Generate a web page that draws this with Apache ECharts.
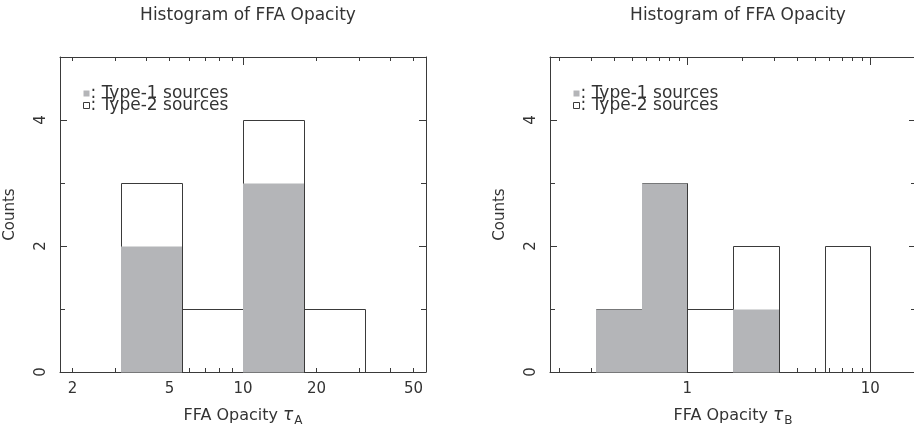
<!DOCTYPE html>
<html>
<head>
<meta charset="utf-8">
<script src="https://cdn.jsdelivr.net/npm/echarts@6/dist/echarts.min.js"></script>
<style>html,body{margin:0;padding:0;background:#fff}#c{width:914px;height:438px}</style>
</head>
<body>
<div id="c"></div>
<script>
// ---- data (x in log10 of FFA opacity) ----
const titleText = 'Histogram of FFA Opacity';
const seriesNames = ['Type-1 sources', 'Type-2 sources'];
// Panel A (tau_A)
const logRangeA = [0.25, 1.75];
const binEdgesA = [0.5, 0.75, 1.0, 1.25, 1.5];
const totalA = [3, 1, 4, 1];
const type1A = [2, 0, 3, 0];
const tickLabelsA = [2, 5, 10, 20, 50];
const minorTicksA = [2, 3, 4, 5, 6, 7, 8, 9, 20, 30, 40, 50];
const majorTicksA = [10];
// Panel B (tau_B)
const logRangeB = [-0.75, 1.25];
const binEdgesB = [-0.5, -0.25, 0, 0.25, 0.5, 0.75, 1.0];
const totalB = [1, 3, 1, 2, 0, 2];
const type1B = [1, 3, 0, 1, 0, 0];
const tickLabelsB = [1, 10];
const minorTicksB = [0.2, 0.3, 0.4, 0.5, 0.6, 0.7, 0.8, 0.9, 2, 3, 4, 5, 6, 7, 8, 9];
const majorTicksB = [1, 10];
// y axis
const yRange = [0, 5];
const yLabels = [0, 2, 4];
const yMinor = [1, 3, 5];

const LINE = '#3a3a3a';
const GRAY = '#b4b5b8';
const FONT = 'DejaVu Sans';

const chart = echarts.init(document.getElementById('c'), null, {renderer: 'canvas'});

function binData(edges, counts) {
  const out = [];
  for (let i = 0; i < counts.length; i++) {
    if (counts[i] > 0) out.push([edges[i], edges[i + 1], counts[i]]);
  }
  return out;
}
const lg = v => Math.log10(v);

function fillRender(params, api) {
  const p0 = api.coord([api.value(0), 0]);
  const p1 = api.coord([api.value(1), api.value(2)]);
  const x0 = Math.round(p0[0]), x1 = Math.round(p1[0]);
  const y0 = Math.round(p0[1]), y1 = Math.round(p1[1]);
  return {type: 'rect', shape: {x: x0, y: y1 + 0.5, width: x1 - x0, height: y0 - y1}, style: {fill: GRAY}};
}
function outlineRender(params, api) {
  const p0 = api.coord([api.value(0), 0]);
  const p1 = api.coord([api.value(1), api.value(2)]);
  const x0 = Math.round(p0[0]) + 0.5, x1 = Math.round(p1[0]) + 0.5;
  const y0 = Math.round(p0[1]) + 0.5, y1 = Math.round(p1[1]) + 0.5;
  return {type: 'rect', shape: {x: x0, y: y1, width: x1 - x0, height: y0 - y1}, style: {fill: null, stroke: LINE, lineWidth: 1}};
}

const grids = [
  {left: 60, top: 57, width: 366, height: 315},
  {left: 550, top: 57, width: 366, height: 315}
];

function xAxesFor(gi, range, labels, minor, major, sub) {
  const base = {type: 'value', gridIndex: gi, min: range[0], max: range[1], splitLine: {show: false}};
  return [
    Object.assign({}, base, {
      position: 'bottom',
      axisLine: {show: true, onZero: false, lineStyle: {color: LINE, width: 1}},
      axisTick: {show: true, inside: true, length: 4, customValues: minor.map(lg), lineStyle: {color: LINE}},
      axisLabel: {show: true, customValues: labels.map(lg), margin: 10, color: '#333', fontFamily: FONT, fontSize: 15,
        formatter: v => String(Math.round(Math.pow(10, v)))},
      name: 'FFA Opacity {t|τ}{s|' + sub + '}',
      nameLocation: 'middle', nameGap: 32,
      nameTextStyle: {color: '#333', fontFamily: FONT, fontSize: 16,
        rich: {t: {fontFamily: FONT, fontSize: 17, fontStyle: 'italic', color: '#333'},
               s: {fontFamily: FONT, fontSize: 12, color: '#333', padding: [11, 0, 0, 1]}}}
    }),
    Object.assign({}, base, {
      position: 'bottom', axisLine: {show: false, onZero: false}, axisLabel: {show: false},
      axisTick: {show: true, inside: true, length: 8, customValues: major.map(lg), lineStyle: {color: LINE}}
    }),
    Object.assign({}, base, {
      position: 'top', axisLine: {show: true, onZero: false, lineStyle: {color: LINE, width: 1}}, axisLabel: {show: false},
      axisTick: {show: true, inside: true, length: 4, customValues: minor.map(lg), lineStyle: {color: LINE}}
    }),
    Object.assign({}, base, {
      position: 'top', axisLine: {show: false, onZero: false}, axisLabel: {show: false},
      axisTick: {show: true, inside: true, length: 8, customValues: major.map(lg), lineStyle: {color: LINE}}
    })
  ];
}
function yAxesFor(gi) {
  const base = {type: 'value', gridIndex: gi, min: yRange[0], max: yRange[1], splitLine: {show: false}};
  return [
    Object.assign({}, base, {
      position: 'left',
      axisLine: {show: true, onZero: false, lineStyle: {color: LINE, width: 1}},
      axisTick: {show: true, inside: true, length: 7, customValues: yLabels, lineStyle: {color: LINE}},
      axisLabel: {show: true, customValues: yLabels, rotate: 90, margin: 11, color: '#333', fontFamily: FONT, fontSize: 15},
      name: 'Counts', nameLocation: 'middle', nameGap: 42, nameRotate: 90,
      nameTextStyle: {color: '#333', fontFamily: FONT, fontSize: 15}
    }),
    Object.assign({}, base, {
      position: 'left', axisLine: {show: false, onZero: false}, axisLabel: {show: false},
      axisTick: {show: true, inside: true, length: 5, customValues: yMinor, lineStyle: {color: LINE}}
    }),
    Object.assign({}, base, {
      position: 'right', axisLine: {show: true, onZero: false, lineStyle: {color: LINE, width: 1}}, axisLabel: {show: false},
      axisTick: {show: true, inside: true, length: 7, customValues: yLabels, lineStyle: {color: LINE}}
    }),
    Object.assign({}, base, {
      position: 'right', axisLine: {show: false, onZero: false}, axisLabel: {show: false},
      axisTick: {show: true, inside: true, length: 5, customValues: yMinor, lineStyle: {color: LINE}}
    })
  ];
}

function legendFor(left) {
  return {
    left: left, top: 80, orient: 'vertical', icon: 'rect', itemWidth: 6, itemHeight: 6, itemGap: -5,
    selectedMode: false,
    textStyle: {color: '#333', fontFamily: FONT, fontSize: 17, padding: [0, 0, 0, -4]},
    formatter: n => ': ' + n,
    data: [
      {name: seriesNames[0], itemStyle: {color: GRAY, borderWidth: 0}},
      {name: seriesNames[1], itemStyle: {color: '#fff', borderColor: LINE, borderWidth: 1}}
    ]
  };
}

const option = {
  animation: false,
  backgroundColor: '#fff',
  title: [
    {text: titleText, left: 243, top: 2, textAlign: 'center', textStyle: {color: '#333', fontFamily: FONT, fontSize: 17, fontWeight: 'normal'}},
    {text: titleText, left: 733, top: 2, textAlign: 'center', textStyle: {color: '#333', fontFamily: FONT, fontSize: 17, fontWeight: 'normal'}}
  ],
  legend: [legendFor(78), legendFor(568)],
  grid: grids.map(g => Object.assign({outerBoundsMode: 'none'}, g)),
  xAxis: [].concat(
    xAxesFor(0, logRangeA, tickLabelsA, minorTicksA, majorTicksA, 'A'),
    xAxesFor(1, logRangeB, tickLabelsB, minorTicksB, majorTicksB, 'B')
  ),
  yAxis: [].concat(yAxesFor(0), yAxesFor(1)),
  series: [
    {name: seriesNames[1], type: 'custom', xAxisIndex: 0, yAxisIndex: 0, z: 3, renderItem: outlineRender, data: binData(binEdgesA, totalA), itemStyle: {color: '#fff'}},
    {name: seriesNames[0], type: 'custom', xAxisIndex: 0, yAxisIndex: 0, z: 4, renderItem: fillRender, data: binData(binEdgesA, type1A), itemStyle: {color: GRAY}},
    {name: seriesNames[1], type: 'custom', xAxisIndex: 4, yAxisIndex: 4, z: 3, renderItem: outlineRender, data: binData(binEdgesB, totalB), itemStyle: {color: '#fff'}},
    {name: seriesNames[0], type: 'custom', xAxisIndex: 4, yAxisIndex: 4, z: 4, renderItem: fillRender, data: binData(binEdgesB, type1B), itemStyle: {color: GRAY}}
  ]
};
chart.setOption(option);
</script>
</body>
</html>
